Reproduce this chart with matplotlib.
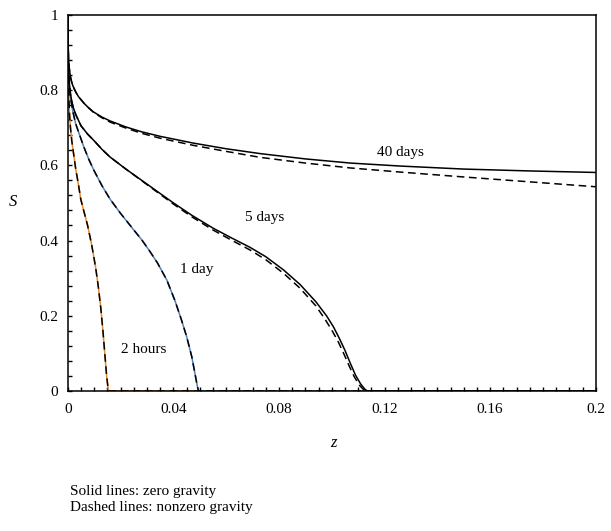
import matplotlib
matplotlib.use("Agg")
import matplotlib.pyplot as plt
from matplotlib.ticker import MultipleLocator

plt.rcParams['font.family'] = ['Liberation Serif', 'DejaVu Serif']

# --- DATA ---
z_2h = [0, 0.0001, 0.0003, 0.0006, 0.001, 0.0015, 0.002, 0.003, 0.004, 0.0049, 0.006, 0.0075,
        0.009, 0.0105, 0.0115, 0.0125, 0.0133, 0.014, 0.0147, 0.0152, 0.0155, 0.2]
s_2h = [1.0, 0.88, 0.80, 0.74, 0.70, 0.665, 0.64, 0.59, 0.55, 0.51, 0.48, 0.44,
        0.39, 0.33, 0.28, 0.22, 0.16, 0.10, 0.04, 0.01, 0.0, 0.0]

z_1d = [0, 0.0001, 0.0003, 0.0006, 0.001, 0.0015, 0.002, 0.003, 0.0045, 0.006, 0.008, 0.01,
        0.013, 0.016, 0.02, 0.025, 0.028, 0.031, 0.034, 0.0375, 0.0406, 0.043, 0.045, 0.047,
        0.0482, 0.049, 0.0495, 0.2]
s_1d = [1.0, 0.90, 0.85, 0.81, 0.78, 0.76, 0.74, 0.71, 0.68, 0.65, 0.615, 0.585,
        0.545, 0.51, 0.472, 0.428, 0.402, 0.372, 0.34, 0.295, 0.24, 0.19, 0.145, 0.09,
        0.045, 0.015, 0.0, 0.0]

z_5d = [0, 0.0001, 0.0003, 0.0006, 0.001, 0.0015, 0.002, 0.003, 0.005, 0.0075, 0.01, 0.013,
        0.016, 0.022, 0.028, 0.034, 0.04, 0.047, 0.055, 0.062, 0.069, 0.075, 0.0817, 0.088,
        0.094, 0.098, 0.1006, 0.103, 0.105, 0.107, 0.109, 0.111, 0.1125, 0.1135, 0.2]
s_5d = [1.0, 0.90, 0.85, 0.815, 0.79, 0.77, 0.755, 0.735, 0.705, 0.683, 0.665, 0.642,
        0.622, 0.59, 0.56, 0.53, 0.50, 0.467, 0.433, 0.407, 0.382, 0.357, 0.322, 0.283,
        0.237, 0.20, 0.171, 0.138, 0.108, 0.074, 0.042, 0.018, 0.005, 0.0, 0.0]
z_5d_g = [0, 0.0001, 0.0003, 0.0006, 0.001, 0.0015, 0.002, 0.003, 0.005, 0.0075, 0.01, 0.013,
          0.016, 0.022, 0.028, 0.034, 0.04, 0.047, 0.055, 0.062, 0.069, 0.075, 0.0817, 0.088,
          0.094, 0.0975, 0.1, 0.1025, 0.1045, 0.1065, 0.1085, 0.1105, 0.112, 0.113, 0.2]
s_5d_g = [1.0, 0.90, 0.85, 0.815, 0.79, 0.77, 0.755, 0.735, 0.705, 0.683, 0.665, 0.642,
          0.622, 0.59, 0.559, 0.528, 0.497, 0.463, 0.428, 0.401, 0.375, 0.349, 0.313, 0.273,
          0.226, 0.19, 0.162, 0.13, 0.10, 0.068, 0.038, 0.015, 0.004, 0.0, 0.0]

z_40d = [0, 0.0001, 0.0003, 0.0006, 0.001, 0.0015, 0.002, 0.003, 0.004, 0.006, 0.008, 0.0097,
         0.013, 0.016, 0.022, 0.028, 0.035, 0.0476, 0.06, 0.073, 0.09, 0.107, 0.126, 0.15,
         0.175, 0.2]
s_40d = [1.0, 0.93, 0.88, 0.855, 0.835, 0.82, 0.81, 0.795, 0.783, 0.766, 0.752, 0.742,
         0.728, 0.718, 0.702, 0.689, 0.677, 0.659, 0.644, 0.631, 0.617, 0.606, 0.598, 0.59,
         0.585, 0.581]
s_40d_g = [1.0, 0.93, 0.88, 0.855, 0.835, 0.82, 0.81, 0.795, 0.783, 0.766, 0.752, 0.741,
           0.726, 0.715, 0.699, 0.685, 0.672, 0.653, 0.637, 0.621, 0.606, 0.593, 0.582, 0.569,
           0.556, 0.543]

labels = ["2 hours", "1 day", "5 days", "40 days"]
label_pos = [(0.0286, 0.109), (0.0488, 0.324), (0.0745, 0.46), (0.126, 0.633)]

# --- PLOT ---
fig = plt.figure(figsize=(6.11, 5.31), dpi=100)
ax = fig.add_axes([0.111, 0.2637, 0.864, 0.7083])

lw = 1.1
dash = (5, 3)
ax.plot(z_2h, s_2h, color='#E8892B', lw=lw)
ax.plot(z_2h, s_2h, color='black', lw=lw, dashes=dash)
ax.plot(z_1d, s_1d, color='#4F81BD', lw=lw)
ax.plot(z_1d, s_1d, color='black', lw=lw, dashes=dash)
ax.plot(z_5d, s_5d, color='black', lw=lw)
ax.plot(z_5d_g, s_5d_g, color='black', lw=lw, dashes=dash)
ax.plot(z_40d, s_40d, color='black', lw=lw)
ax.plot(z_40d, s_40d_g, color='black', lw=lw, dashes=dash)

for txt, (x, y) in zip(labels, label_pos):
    ax.text(x, y, txt, fontsize=11, ha='center', va='center')

ax.set_xlim(0, 0.2)
ax.set_ylim(0, 1)
ax.xaxis.set_minor_locator(MultipleLocator(0.005))
ax.yaxis.set_minor_locator(MultipleLocator(0.04))
ax.set_xticks([0, 0.04, 0.08, 0.12, 0.16, 0.2])
ax.set_xticklabels(['0', '0.04', '0.08', '0.12', '0.16', '0.2'])
ax.set_yticks([0, 0.2, 0.4, 0.6, 0.8, 1])
ax.set_yticklabels(['0', '0.2', '0.4', '0.6', '0.8', '1'])
ax.tick_params(which='both', direction='in', length=3, width=1, labelsize=11)
ax.tick_params(axis='x', which='both', pad=9)
ax.tick_params(axis='y', which='both', pad=7)
for sp in ax.spines.values():
    sp.set_linewidth(1.1)

fig.text(13 / 611, 1 - 202 / 531, 'S', fontsize=12, style='italic', ha='center', va='center')
fig.text(333 / 611, 1 - 443 / 531, 'z', fontsize=12, style='italic', ha='center', va='center')
fig.text(70 / 611, 1 - 492 / 531, 'Solid lines: zero gravity', fontsize=11, va='center')
fig.text(70 / 611, 1 - 508 / 531, 'Dashed lines: nonzero gravity', fontsize=11, va='center')

fig.savefig('out.png', dpi=100)
